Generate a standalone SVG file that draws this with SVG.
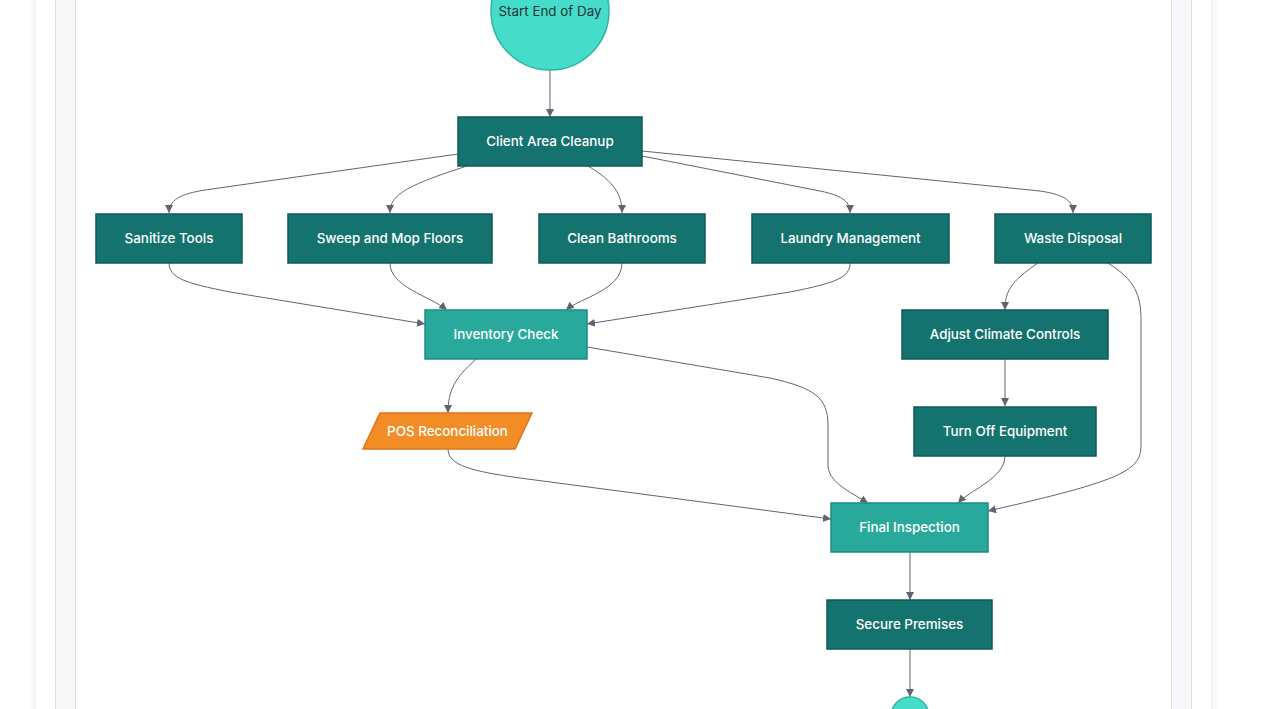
<svg xmlns="http://www.w3.org/2000/svg" width="1270" height="709" viewBox="0 0 1270 709">
<style>
.dk{fill:#15736f;stroke:#0f5a57;stroke-width:1.5}
.lt{fill:#29a99c;stroke:#1e8b81;stroke-width:1.5}
.t{font-family:Inter,"Liberation Sans",sans-serif;font-size:13.4px;font-weight:500;fill:#ffffff;text-anchor:middle;dominant-baseline:central}
.e{fill:none;stroke:#5f6573;stroke-width:1}
</style>
<defs>
<filter id="sh" x="-5%" y="-5%" width="110%" height="110%">
<feDropShadow dx="0" dy="0" stdDeviation="5" flood-color="#000" flood-opacity="0.12"/>
</filter>
<marker id="ah" viewBox="0 0 10 10" refX="10" refY="5" markerWidth="8" markerHeight="8" markerUnits="userSpaceOnUse" orient="auto">
<path d="M0,0 L10,5 L0,10 z" fill="#5f6573"/>
</marker>
</defs>
<rect width="1270" height="709" fill="#ffffff"/>
<rect x="36" y="-20" width="1175" height="760" fill="#ffffff" filter="url(#sh)"/>
<rect x="55.5" y="-20" width="1136" height="760" fill="#f7f8fa" stroke="#dedfe5"/>
<rect x="75.5" y="-20" width="1096" height="760" fill="#ffffff" stroke="#dedfe5"/>
<g id="connectors">
<path class="e" d="M550,70 L550,117" marker-end="url(#ah)"/>
<path class="e" d="M458,154 L205,190 C180,194 169,200 169,213" marker-end="url(#ah)"/>
<path class="e" d="M467,166 C405,186 390,195 390,213" marker-end="url(#ah)"/>
<path class="e" d="M588,166 C615,182 622,195 622,213" marker-end="url(#ah)"/>
<path class="e" d="M642,156 L820,191 C845,196 850,203 850,213" marker-end="url(#ah)"/>
<path class="e" d="M642,151 L1040,191 C1067,195 1073,202 1073,213" marker-end="url(#ah)"/>
<path class="e" d="M169,263 C169,278 185,283 230,292 L425,324" marker-end="url(#ah)"/>
<path class="e" d="M390,263 C390,287 430,296 447,310" marker-end="url(#ah)"/>
<path class="e" d="M622,263 C622,290 580,298 566,310" marker-end="url(#ah)"/>
<path class="e" d="M850,263 C850,278 835,283 790,292 L587,324" marker-end="url(#ah)"/>
<path class="e" d="M1038,263 C1010,282 1005,292 1005,310" marker-end="url(#ah)"/>
<path class="e" d="M1108,263 C1135,280 1141,295 1141,320 L1141,445 C1141,470 1125,480 988,511" marker-end="url(#ah)"/>
<path class="e" d="M476,359 C455,378 448,390 448,413" marker-end="url(#ah)"/>
<path class="e" d="M587,347 L770,378 C815,388 828,398 828,425 L828,465 C828,482 850,492 868,503" marker-end="url(#ah)"/>
<path class="e" d="M448,449 C448,465 470,471 520,478 L831,519" marker-end="url(#ah)"/>
<path class="e" d="M1005,359 L1005,406" marker-end="url(#ah)"/>
<path class="e" d="M1005,456 C1005,478 970,490 958,503" marker-end="url(#ah)"/>
<path class="e" d="M910,552 L910,600" marker-end="url(#ah)"/>
<path class="e" d="M910,649 L910,697" marker-end="url(#ah)"/>
</g>
<g id="start">
<circle cx="550" cy="11" r="59" fill="#45ddc9" stroke="#2db5a3" stroke-width="1.5"/>
<text class="t" x="550" y="11" style="fill:#263238;font-weight:400">Start End of Day</text>
</g>
<g id="client"><rect class="dk" x="458" y="117" width="184" height="49"/><text class="t" x="550" y="141">Client Area Cleanup</text></g>
<g id="sanitize"><rect class="dk" x="96" y="214" width="146" height="49"/><text class="t" x="169" y="238">Sanitize Tools</text></g>
<g id="sweep"><rect class="dk" x="288" y="214" width="204" height="49"/><text class="t" x="390" y="238">Sweep and Mop Floors</text></g>
<g id="bath"><rect class="dk" x="539" y="214" width="166" height="49"/><text class="t" x="622" y="238">Clean Bathrooms</text></g>
<g id="laundry"><rect class="dk" x="752" y="214" width="197" height="49"/><text class="t" x="850.5" y="238">Laundry Management</text></g>
<g id="waste"><rect class="dk" x="995" y="214" width="156" height="49"/><text class="t" x="1073" y="238">Waste Disposal</text></g>
<g id="inventory"><rect class="lt" x="425" y="310" width="162" height="49"/><text class="t" x="506" y="334">Inventory Check</text></g>
<g id="climate"><rect class="dk" x="902" y="310" width="206" height="49"/><text class="t" x="1005" y="334">Adjust Climate Controls</text></g>
<g id="pos"><polygon points="380,413 532,413 515,449 363,449" fill="#f28d25" stroke="#e2711b" stroke-width="1.5"/><text class="t" x="447.5" y="431">POS Reconciliation</text></g>
<g id="turnoff"><rect class="dk" x="914" y="407" width="182" height="49"/><text class="t" x="1005" y="431">Turn Off Equipment</text></g>
<g id="final"><rect class="lt" x="831" y="503" width="157" height="49"/><text class="t" x="909.5" y="527">Final Inspection</text></g>
<g id="secure"><rect class="dk" x="827" y="600" width="165" height="49"/><text class="t" x="909.5" y="623.5">Secure Premises</text></g>
<g id="end"><circle cx="910" cy="716" r="19" fill="#45ddc9" stroke="#2db5a3" stroke-width="1.5"/></g>
</svg>
